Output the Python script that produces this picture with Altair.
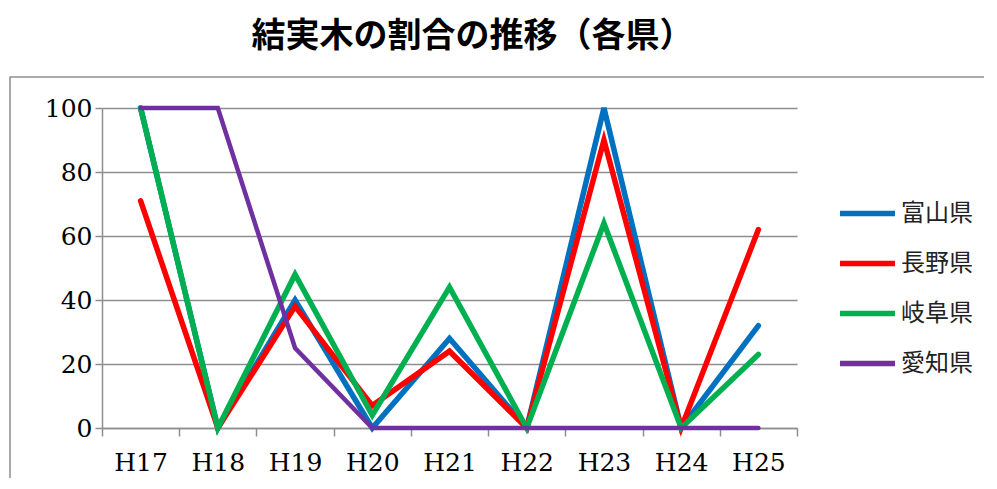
import altair as alt
import pandas as pd

years = ["H17", "H18", "H19", "H20", "H21", "H22", "H23", "H24", "H25"]
prefs = ["富山県", "長野県", "岐阜県", "愛知県"]
colors = ["#0070C0", "#FF0000", "#00B050", "#7030A0"]
toyama = [100, 0, 40, 0, 28, 0, 100, 0, 32]
nagano = [71, 0, 38, 7, 24, 0, 90, 0, 62]
gifu = [100, 0, 48, 4, 44, 0, 64, 0, 23]
aichi = [100, 100, 25, 0, 0, 0, 0, 0, 0]
series = [toyama, nagano, gifu, aichi]
widths = [5.5, 5.5, 5.5, 4.5]

rows = []
for p, vals in zip(prefs, series):
    for y, v in zip(years, vals):
        rows.append({"year": y, "pref": p, "value": v})
df = pd.DataFrame(rows)

serif = "DejaVu Serif"
cjk = "Noto Sans CJK JP"

x_enc = alt.X("year:N", sort=years, title=None,
              scale=alt.Scale(type="band", paddingInner=0, paddingOuter=0),
              axis=alt.Axis(labelAngle=0, tickBand="extent", labelFont=serif,
                            labelFontSize=25, labelColor="black", labelPadding=14,
                            domainColor="#8e8e8e", domainWidth=1.5,
                            tickColor="#8e8e8e", tickWidth=1.5, tickSize=8,
                            grid=False))
y_enc = alt.Y("value:Q", title=None,
              scale=alt.Scale(domain=[0, 100], nice=False),
              axis=alt.Axis(values=[0, 20, 40, 60, 80, 100], labelFont=serif,
                            labelFontSize=25, labelColor="black", labelPadding=3,
                            domainColor="#8e8e8e", domainWidth=1.5,
                            tickColor="#8e8e8e", tickWidth=1.5, tickSize=7,
                            grid=True, gridColor="#8e8e8e", gridWidth=1.5))
color_enc = alt.Color("pref:N", title=None,
                      scale=alt.Scale(domain=prefs, range=colors),
                      legend=alt.Legend(orient="none", legendX=735, legendY=75,
                                        symbolType="stroke", symbolSize=3025,
                                        symbolStrokeWidth=5.5, labelFont=cjk,
                                        labelFontSize=24, labelColor="#222222",
                                        labelOffset=3, rowPadding=7))

border = alt.Chart(alt.Data(values=[{}])).mark_rect(
    fill=None, stroke="#8e8e8e", strokeWidth=1.5
).encode(x=alt.value(-92), x2=alt.value(920), y=alt.value(-31), y2=alt.value(420))

layers = [border]
for p, w in zip(prefs, widths):
    layers.append(
        alt.Chart(df).transform_filter(alt.datum.pref == p)
        .mark_line(strokeWidth=w, strokeCap="round", strokeJoin="miter")
        .encode(x=x_enc, y=y_enc, color=color_enc)
    )

chart = alt.layer(*layers).properties(
    width=695, height=320,
    autosize=alt.AutoSizeParams(type="none"),
    padding={"left": 94, "top": 100, "right": 187, "bottom": 50},
    title=alt.Title("結実木の割合の推移（各県）", font=cjk, fontSize=34,
                    fontWeight="bold", color="black", anchor="middle",
                    dx=23, offset=22),
).configure_view(stroke=None)

chart.save("out.html", embed_options={"renderer": "svg", "actions": False})
